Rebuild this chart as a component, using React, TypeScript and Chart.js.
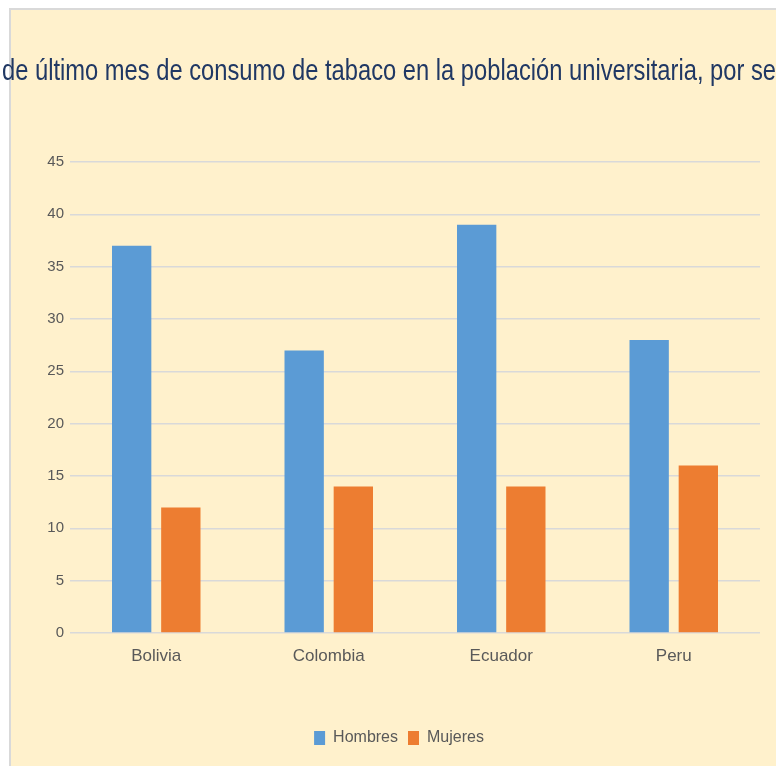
import React, { useEffect, useRef } from "react";
import { Chart, registerables } from "chart.js";

Chart.register(...registerables);

const titleText = "de último mes de consumo de tabaco en la población universitaria, por se";
const categories = ["Bolivia", "Colombia", "Ecuador", "Peru"];
const seriesNames = ["Hombres", "Mujeres"];
const hombres = [37, 27, 39, 28];
const mujeres = [12, 14, 14, 16];
const colors = ["#5B9BD5", "#ED7D31"];
const yMax = 45;
const yStep = 5;

const FONT = "'Liberation Sans', Arial, sans-serif";

const backgroundPlugin = {
  id: "bgPlugin",
  beforeDraw(chart: any) {
    const { ctx, width, height } = chart;
    ctx.save();
    ctx.fillStyle = "#FFFFFF";
    ctx.fillRect(0, 0, width, height);
    ctx.fillStyle = "#FFF1CC";
    ctx.fillRect(11, 10, width - 11, height - 10);
    ctx.strokeStyle = "#D9D9D9";
    ctx.lineWidth = 2;
    ctx.beginPath();
    ctx.moveTo(10, height);
    ctx.lineTo(10, 9);
    ctx.lineTo(width, 9);
    ctx.stroke();
    ctx.restore();
  },
};

const titlePlugin = {
  id: "squeezedTitle",
  afterDraw(chart: any) {
    const { ctx } = chart;
    ctx.save();
    ctx.font = `29px ${FONT}`;
    ctx.fillStyle = "#203864";
    ctx.textBaseline = "middle";
    ctx.textAlign = "center";
    const w = ctx.measureText(titleText).width;
    const target = 774;
    const sx = target / w;
    ctx.translate(2 + target / 2, 72);
    ctx.scale(sx, 1);
    ctx.fillText(titleText, 0, 0);
    ctx.restore();
  },
};

export default function App() {
  const ref = useRef<HTMLCanvasElement | null>(null);
  useEffect(() => {
    if (!ref.current) return;
    const chart = new Chart(ref.current, {
      type: "bar",
      data: {
        labels: categories,
        datasets: [
          {
            label: seriesNames[0],
            data: hombres,
            backgroundColor: colors[0],
            categoryPercentage: 0.57,
            barPercentage: 0.8,
          },
          {
            label: seriesNames[1],
            data: mujeres,
            backgroundColor: colors[1],
            categoryPercentage: 0.57,
            barPercentage: 0.8,
          },
        ],
      },
      options: {
        animation: false,
        responsive: false,
        maintainAspectRatio: false,
        layout: { padding: { top: 162, left: 38, right: 16, bottom: 10 } },
        plugins: {
          title: { display: false },
          tooltip: { enabled: false },
          legend: {
            position: "bottom",
            labels: {
              boxWidth: 11,
              boxHeight: 14,
              padding: 10,
              color: "#595959",
              font: { family: FONT, size: 16 },
            },
          },
        },
        scales: {
          x: {
            grid: { display: false, drawTicks: false },
            border: { display: false },
            ticks: {
              color: "#595959",
              padding: 13,
              font: { family: FONT, size: 17 },
            },
            afterFit: (s: any) => {
              s.height = 87;
            },
          },
          y: {
            min: 0,
            max: yMax,
            grid: { color: "#D9D9D9", lineWidth: 1.5, drawTicks: false },
            border: { display: false },
            ticks: {
              stepSize: yStep,
              color: "#595959",
              padding: 6,
              font: { family: FONT, size: 15 },
            },
            afterFit: (s: any) => {
              s.width = 32;
            },
          },
        },
      },
      plugins: [backgroundPlugin, titlePlugin],
    });
    return () => chart.destroy();
  }, []);
  return <canvas ref={ref} width={776} height={766} style={{ display: "block", position: "absolute", left: 0, top: 0 }} />;
}
